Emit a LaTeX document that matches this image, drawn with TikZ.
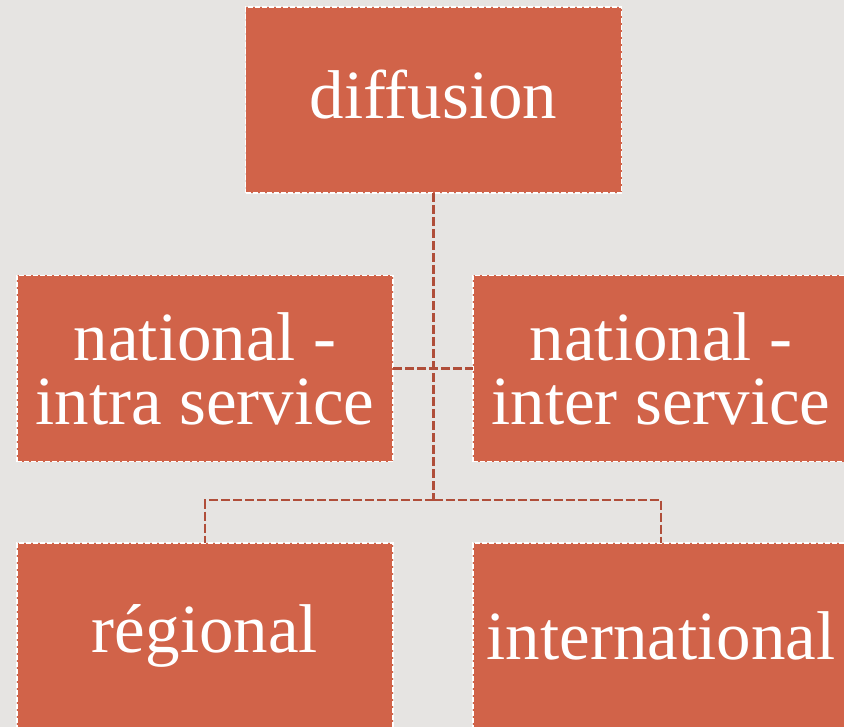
\documentclass[tikz,border=0pt]{standalone}
\usepackage{fontspec}
\setmainfont{Liberation Serif}
\definecolor{boxfill}{RGB}{209,99,73}
\definecolor{backgr}{RGB}{230,228,226}
\definecolor{linkcol}{RGB}{176,78,58}

\begin{document}
\begin{tikzpicture}[x=1pt,y=-1pt,
    box/.style={rectangle,fill=boxfill,draw=white,line width=1.4pt,
      dash pattern=on 5pt off 2pt,minimum width=376pt,minimum height=186pt,
      inner sep=0pt,outer sep=0pt,text=white,align=center,
      font=\fontsize{69}{64}\selectfont},
    link/.style={draw=linkcol,line width=2.4pt,dash pattern=on 9pt off 3pt}]
    \fill[backgr](0,0) rectangle (844,727);
    \useasboundingbox (0,0) rectangle (844,727);
    \clip (0,0) rectangle (844,727);

    \node[box,text depth=12pt] (diff) at (433.5,100) {diffusion};
    \node[box] (intra) at (205,368.5)   {national -\\intra service};
    \node[box] (inter) at (661,368.5)   {national -\\inter service};
    \node[box] (reg)   at (205,636)     {régional};
    \node[box] (intl)  at (661,636)     {international};

    \coordinate (bus) at (433.5,500);
    \draw[link](diff)--(bus);
    \draw[link](intra)--(inter);
    \draw[link](bus)-|(reg);
    \draw[link](bus)-|(intl);
\end{tikzpicture}
\end{document}
